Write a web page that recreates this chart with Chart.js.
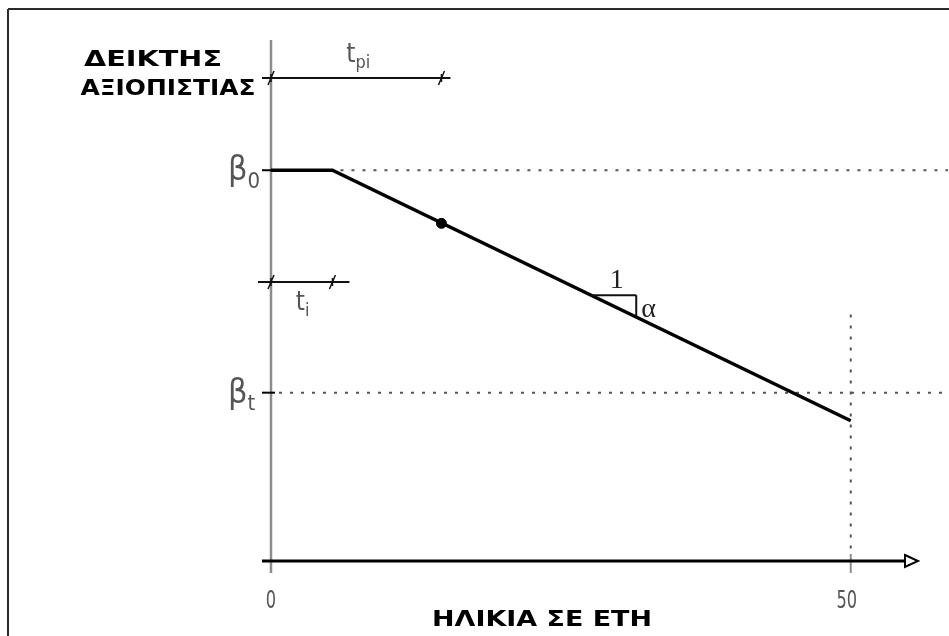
<!DOCTYPE html>
<html>
<head>
<meta charset="utf-8">
<script src="https://cdn.jsdelivr.net/npm/chart.js@4.4.1/dist/chart.umd.min.js"></script>
<style>
  html, body { margin: 0; padding: 0; background: #ffffff; }
  #wrap { width: 949px; height: 636px; position: relative; }
</style>
</head>
<body>
<div id="wrap"><canvas id="c" width="949" height="636"></canvas></div>
<script>
// Reliability index of a structure versus age (years)
const ageYears = [0, 5.3, 50];
const reliabilityIndex = [3.9, 3.9, 1.4];
const inspectionAge = [14.7];
const inspectionIndex = [3.37];
const beta0 = 3.9;        // initial reliability index
const betaTarget = 1.68;  // target reliability index
const tI = 5.3;           // initiation time
const tPi = 14.7;         // time to first inspection
const designLife = 50;
const xTickValues = [0, 50];
const xTickLabels = ['0', '50'];
const yTitleLines = ['ΔΕΙΚΤΗΣ', 'ΑΞΙΟΠΙΣΤΙΑΣ'];
const xTitle = 'ΗΛΙΚΙΑ ΣΕ ΕΤΗ';
const slopeRun = [27.6, 31.5]; // span of the little slope triangle

const thinFont = '"Liberation Sans Narrow", "DejaVu Sans Condensed", "Liberation Sans", sans-serif';
const boldFont = '"DejaVu Sans", "Liberation Sans", sans-serif';

function lineY(x) {
  // reliability on the descending branch
  const x1 = ageYears[1], x2 = ageYears[2];
  const y1 = reliabilityIndex[1], y2 = reliabilityIndex[2];
  return y1 + (x - x1) * (y2 - y1) / (x2 - x1);
}

function seg(ctx, x1, y1, x2, y2) {
  ctx.beginPath(); ctx.moveTo(x1, y1); ctx.lineTo(x2, y2); ctx.stroke();
}

function fitText(ctx, text, cx, baseY, width) {
  const w = ctx.measureText(text).width;
  ctx.save();
  ctx.translate(cx, baseY);
  ctx.scale(width / w, 1);
  ctx.textAlign = 'center';
  ctx.textBaseline = 'alphabetic';
  ctx.fillText(text, 0, 0);
  ctx.restore();
}

function narrowText(ctx, text, cx, baseY, sx) {
  ctx.save();
  ctx.translate(cx, baseY);
  ctx.scale(sx, 1);
  ctx.textAlign = 'center';
  ctx.textBaseline = 'alphabetic';
  ctx.fillText(text, 0, 0);
  ctx.restore();
}

function subLabel(ctx, main, sub, x, baseY, size, subSize) {
  ctx.font = size + 'px ' + thinFont;
  ctx.textAlign = 'left';
  ctx.textBaseline = 'alphabetic';
  ctx.fillText(main, x, baseY);
  const w = ctx.measureText(main).width;
  ctx.font = subSize + 'px ' + thinFont;
  ctx.fillText(sub, x + w, baseY + size * 0.22);
}

const diagram = {
  id: 'diagram',
  beforeDatasetsDraw(chart) {
    const ctx = chart.ctx;
    const xs = chart.scales.x, ys = chart.scales.y;
    const x0 = xs.getPixelForValue(0);
    const yAxis = ys.getPixelForValue(0);
    const top = chart.chartArea.top;
    const xEnd = xs.getPixelForValue(designLife);
    ctx.save();

    // frame
    ctx.strokeStyle = '#2a2a2a';
    ctx.lineWidth = 2;
    seg(ctx, 8, 9, 949, 9);
    seg(ctx, 8, 9, 8, 636);

    // dotted guides
    ctx.strokeStyle = '#555';
    ctx.lineWidth = 2;
    ctx.setLineDash([3, 8]);
    const yb0 = ys.getPixelForValue(beta0);
    const ybt = ys.getPixelForValue(betaTarget);
    seg(ctx, xs.getPixelForValue(ageYears[1]) + 8, yb0, 948, yb0);
    seg(ctx, x0 + 8, ybt, 948, ybt);
    seg(ctx, xEnd, ys.getPixelForValue(2.46), xEnd, yAxis - 6);
    ctx.setLineDash([]);

    // vertical axis
    ctx.strokeStyle = '#8c8c8c';
    ctx.lineWidth = 2.5;
    seg(ctx, x0, top, x0, yAxis + 12);

    // tick at 50
    ctx.lineWidth = 2;
    seg(ctx, xEnd, yAxis - 7, xEnd, yAxis + 12);

    // horizontal axis with open arrow head
    const right = chart.chartArea.right;
    ctx.strokeStyle = '#000';
    ctx.lineWidth = 3;
    seg(ctx, x0 - 9, yAxis, right - 12, yAxis);
    ctx.lineWidth = 2;
    ctx.beginPath();
    ctx.moveTo(right - 13, yAxis - 6);
    ctx.lineTo(right, yAxis);
    ctx.lineTo(right - 13, yAxis + 6);
    ctx.closePath();
    ctx.fillStyle = '#fff';
    ctx.fill();
    ctx.stroke();

    // ticks for beta values
    ctx.lineWidth = 2;
    seg(ctx, x0 - 9, yb0, x0 + 4, yb0);
    seg(ctx, x0 - 9, ybt, x0 + 4, ybt);
    ctx.restore();
  },
  afterDatasetsDraw(chart) {
    const ctx = chart.ctx;
    const xs = chart.scales.x, ys = chart.scales.y;
    const x0 = xs.getPixelForValue(0);
    const yAxis = ys.getPixelForValue(0);
    ctx.save();

    // dimension lines t_pi and t_i
    ctx.strokeStyle = '#111';
    ctx.lineWidth = 2;
    const yPi = 78, yI = 282;
    seg(ctx, x0 - 9, yPi, xs.getPixelForValue(tPi) + 9, yPi);
    seg(ctx, x0 - 13, yI, xs.getPixelForValue(tI) + 17, yI);
    ctx.lineWidth = 1.5;
    [[0, yPi], [tPi, yPi], [0, yI], [tI, yI]].forEach(([v, y]) => {
      const px = xs.getPixelForValue(v);
      seg(ctx, px - 3, y + 7, px + 3, y - 7);
      seg(ctx, px, y - 4, px, y + 4);
    });
    ctx.fillStyle = '#555';
    subLabel(ctx, 't', 'pi', xs.getPixelForValue(tPi / 2) - 10, 62, 26, 18);
    subLabel(ctx, 't', 'i', xs.getPixelForValue(tI / 2) - 6, 310, 26, 18);

    // beta labels
    subLabel(ctx, 'β', '0', 228, ys.getPixelForValue(beta0) + 10, 34, 22);
    subLabel(ctx, 'β', 't', 228, ys.getPixelForValue(betaTarget) + 10, 34, 22);

    // slope triangle
    const ax = xs.getPixelForValue(slopeRun[0]);
    const bx = xs.getPixelForValue(slopeRun[1]);
    const ay = ys.getPixelForValue(lineY(slopeRun[0]));
    const by = ys.getPixelForValue(lineY(slopeRun[1]));
    ctx.strokeStyle = '#111';
    ctx.lineWidth = 2;
    seg(ctx, ax, ay, bx, ay);
    seg(ctx, bx, ay, bx, by);
    ctx.fillStyle = '#222';
    ctx.font = '28px "Liberation Serif", serif';
    ctx.textAlign = 'center';
    ctx.textBaseline = 'alphabetic';
    ctx.fillText('1', (ax + bx) / 2 + 3, ay - 7);
    ctx.textAlign = 'left';
    ctx.fillText('α', bx + 5, by);

    // tick labels
    ctx.fillStyle = '#555';
    ctx.font = '24px ' + thinFont;
    xTickValues.forEach((v, i) => {
      narrowText(ctx, xTickLabels[i], xs.getPixelForValue(v) + (i ? -4 : 0), yAxis + 47, 0.75);
    });

    // axis titles
    ctx.fillStyle = '#000';
    ctx.font = 'bold 21px ' + boldFont;
    fitText(ctx, yTitleLines[0], 153, 66, 138);
    fitText(ctx, yTitleLines[1], 168, 95, 175);
    fitText(ctx, xTitle, 542, 626, 220);
    ctx.restore();
  }
};

new Chart(document.getElementById('c'), {
  type: 'line',
  data: {
    datasets: [
      {
        data: ageYears.map((x, i) => ({ x, y: reliabilityIndex[i] })),
        borderColor: '#000',
        borderWidth: 3.5,
        pointRadius: 0,
        tension: 0
      },
      {
        type: 'scatter',
        data: inspectionAge.map((x, i) => ({ x, y: inspectionIndex[i] })),
        backgroundColor: '#000',
        borderColor: '#000',
        pointRadius: 5
      }
    ]
  },
  options: {
    responsive: false,
    animation: false,
    layout: { padding: { left: 271, right: 31, top: 40, bottom: 75 } },
    plugins: { legend: { display: false }, tooltip: { enabled: false } },
    scales: {
      x: { type: 'linear', min: 0, max: 55.8, display: false },
      y: { type: 'linear', min: 0, max: 5.2, display: false }
    }
  },
  plugins: [diagram]
});
</script>
</body>
</html>
